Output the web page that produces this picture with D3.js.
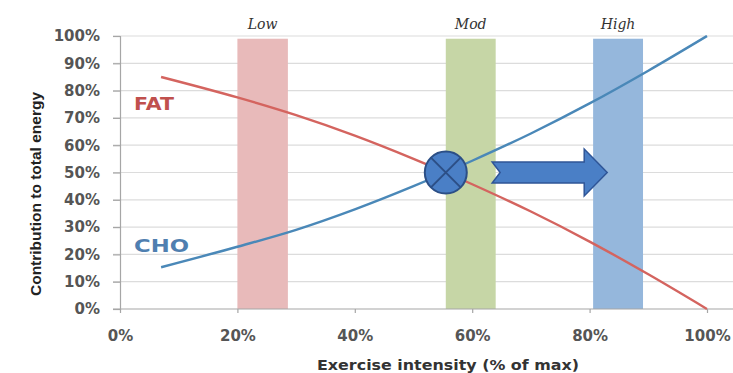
<!DOCTYPE html>
<html>
<head>
<meta charset="utf-8">
<script src="https://cdn.jsdelivr.net/npm/d3@7"></script>
<style>
  html, body { margin: 0; padding: 0; background: #fff; }
  svg { display: block; }
</style>
</head>
<body>
<svg id="chart" width="733" height="373"></svg>
<script>
// Exercise intensity (fraction of max) and fuel contribution (fraction of total energy)
const intensity = [0.07, 0.20, 0.30, 0.40, 0.50, 0.555, 0.60, 0.70, 0.80, 0.90, 1.00];
const fatShare  = [0.85, 0.775, 0.71, 0.635, 0.55, 0.50, 0.457, 0.357, 0.247, 0.127, 0.00];
const choShare  = [0.153, 0.228, 0.29, 0.365, 0.45, 0.50, 0.543, 0.643, 0.753, 0.873, 1.00];

// Intensity zones
const zoneNames = ["Low", "Mod", "High"];
const zoneStart = [0.20, 0.555, 0.806];
const zoneEnd   = [0.286, 0.64, 0.891];
const zoneTop   = 0.99;

// Crossover marker and shift arrow
const crossover = [0.555, 0.50];
const arrowFrom = 0.634;
const arrowTo   = 0.83;

const xTicks = [0, 0.2, 0.4, 0.6, 0.8, 1.0];
const yTicks = [0, 0.1, 0.2, 0.3, 0.4, 0.5, 0.6, 0.7, 0.8, 0.9, 1.0];

const svg = d3.select("#chart");
const x = d3.scaleLinear().domain([0, 1]).range([120, 707]);
const y = d3.scaleLinear().domain([0, 1]).range([309, 36]);
const pct = d3.format(".0%");
const gridRight = 733;

// Horizontal gridlines
svg.append("g").selectAll("line")
  .data(yTicks.filter(d => d > 0))
  .join("line")
  .attr("x1", x(0) - 7).attr("x2", gridRight)
  .attr("y1", d => y(d)).attr("y2", d => y(d))
  .attr("stroke", "#dcdcdc").attr("stroke-width", 1.2);

// Zone bands
const zoneColors = ["#e8baba", "#c6d6a6", "#95b7dc"];
svg.append("g").selectAll("rect")
  .data(zoneNames)
  .join("rect")
  .attr("x", (d, i) => x(zoneStart[i]))
  .attr("width", (d, i) => x(zoneEnd[i]) - x(zoneStart[i]))
  .attr("y", y(zoneTop))
  .attr("height", y(0) - y(zoneTop))
  .attr("fill", (d, i) => zoneColors[i]);

svg.append("g").selectAll("text")
  .data(zoneNames)
  .join("text")
  .attr("x", (d, i) => x((zoneStart[i] + zoneEnd[i]) / 2))
  .attr("y", 29)
  .attr("text-anchor", "middle")
  .attr("font-family", "DejaVu Serif, serif")
  .attr("font-style", "italic")
  .attr("font-size", 14)
  .attr("fill", "#333")
  .text(d => d);

// Axes
const yAxis = svg.append("g")
  .attr("transform", `translate(${x(0)},0)`)
  .call(d3.axisLeft(y).tickValues(yTicks).tickFormat(pct).tickSize(7).tickPadding(13));
const xAxis = svg.append("g")
  .attr("transform", `translate(0,${y(0)})`)
  .call(d3.axisBottom(x).tickValues(xTicks).tickFormat(pct).tickSize(4).tickPadding(17));

[yAxis, xAxis].forEach(g => {
  g.select(".domain").attr("stroke", "#a6a6a6").attr("stroke-width", 1.2);
  g.selectAll(".tick line").attr("stroke", "#a6a6a6").attr("stroke-width", 1.2);
  g.selectAll(".tick text")
    .attr("font-family", "DejaVu Sans, sans-serif")
    .attr("font-weight", "bold")
    .attr("font-size", 15)
    .attr("fill", "#555");
});
// x axis line runs across the full plot width
xAxis.select(".domain").remove();
svg.append("line")
  .attr("x1", x(0) - 7).attr("x2", gridRight)
  .attr("y1", y(0)).attr("y2", y(0))
  .attr("stroke", "#a6a6a6").attr("stroke-width", 1.2);

// Fuel curves
const line = d3.line().curve(d3.curveMonotoneX);
const fatPts = intensity.map((d, i) => [x(d), y(fatShare[i])]);
const choPts = intensity.map((d, i) => [x(d), y(choShare[i])]);

svg.append("path").attr("d", line(fatPts))
  .attr("fill", "none").attr("stroke", "#d4645f").attr("stroke-width", 2.4);
svg.append("path").attr("d", line(choPts))
  .attr("fill", "none").attr("stroke", "#4a88b8").attr("stroke-width", 2.4);

// Series labels
svg.append("text").attr("x", 134).attr("y", 110)
  .attr("font-family", "DejaVu Sans, sans-serif").attr("font-weight", "bold")
  .attr("font-size", 17).attr("fill", "#c0504d")
  .attr("textLength", 40).attr("lengthAdjust", "spacingAndGlyphs")
  .text("FAT");
svg.append("text").attr("x", 134).attr("y", 252)
  .attr("font-family", "DejaVu Sans, sans-serif").attr("font-weight", "bold")
  .attr("font-size", 17).attr("fill", "#4f7fb0")
  .attr("textLength", 55).attr("lengthAdjust", "spacingAndGlyphs")
  .text("CHO");

// Crossover marker
const cx = x(crossover[0]), cy = y(crossover[1]), r = 21;
svg.append("circle").attr("cx", cx).attr("cy", cy).attr("r", r)
  .attr("fill", "#4a7fc6").attr("stroke", "#2c4f86").attr("stroke-width", 2);
const k = r * Math.SQRT1_2;
svg.append("path")
  .attr("d", `M${cx - k},${cy - k}L${cx + k},${cy + k}M${cx + k},${cy - k}L${cx - k},${cy + k}`)
  .attr("stroke", "#2c4f86").attr("stroke-width", 2);

// Shift arrow
const ax0 = x(arrowFrom), ax1 = x(arrowTo);
const headW = 23, bodyH = 10.5, headH = 23.5, notch = 8;
svg.append("path")
  .attr("d", [
    `M${ax0},${cy - bodyH}`,
    `L${ax1 - headW},${cy - bodyH}`,
    `L${ax1 - headW},${cy - headH}`,
    `L${ax1},${cy}`,
    `L${ax1 - headW},${cy + headH}`,
    `L${ax1 - headW},${cy + bodyH}`,
    `L${ax0},${cy + bodyH}`,
    `L${ax0 + notch},${cy}`, "Z"].join(""))
  .attr("fill", "#4a7fc6").attr("stroke", "#2f5597").attr("stroke-width", 1.5);

// Axis titles
svg.append("text")
  .attr("x", 448).attr("y", 370)
  .attr("text-anchor", "middle")
  .attr("font-family", "DejaVu Sans, sans-serif").attr("font-weight", "bold")
  .attr("font-size", 14).attr("fill", "#333")
  .attr("textLength", 262).attr("lengthAdjust", "spacingAndGlyphs")
  .text("Exercise intensity (% of max)");
svg.append("text")
  .attr("transform", `translate(41,${(92 + 296) / 2}) rotate(-90)`)
  .attr("text-anchor", "middle")
  .attr("font-family", "Liberation Sans Narrow, Liberation Sans, sans-serif")
  .attr("font-weight", "bold")
  .attr("font-size", 15).attr("fill", "#222")
  .attr("textLength", 204).attr("lengthAdjust", "spacingAndGlyphs")
  .text("Contribution to total energy");
</script>
</body>
</html>
